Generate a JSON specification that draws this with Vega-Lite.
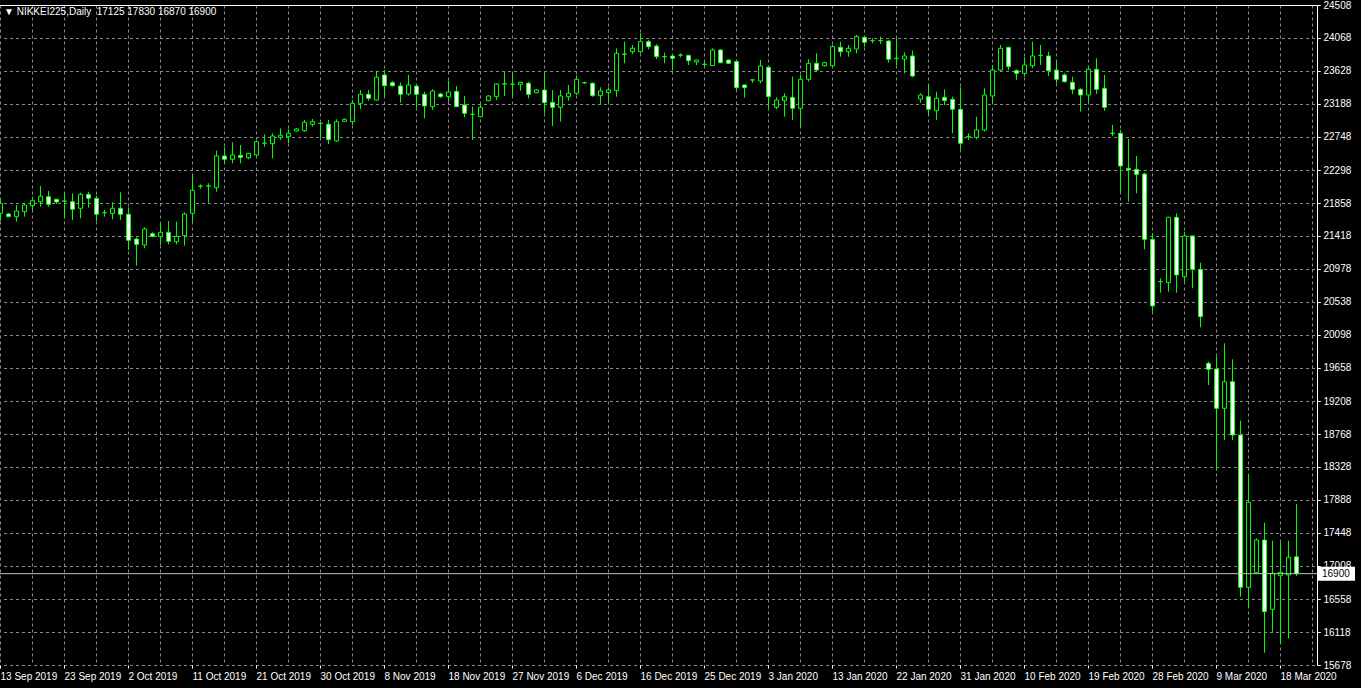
{
  "$schema": "https://vega.github.io/schema/vega-lite/v6.json",
  "width": 1317,
  "height": 660,
  "autosize": {"type": "none"},
  "padding": {"left": 0, "top": 5, "right": 44, "bottom": 23},
  "background": "#000000",
  "title": {
    "text": "▼ NIKKEI225,Daily\u00a0\u00a017125 17830 16870 16900",
    "anchor": "start",
    "frame": "group",
    "orient": "top",
    "offset": -17,
    "dx": 4,
    "color": "#ffffff",
    "font": "Liberation Sans",
    "fontSize": 10,
    "fontWeight": "normal"
  },
  "config": {
    "view": {"stroke": null},
    "axis": {"labelFont": "Liberation Sans", "labelFontSize": 10, "labelColor": "#ffffff"}
  },
  "resolve": {"axis": {"x": "independent"}},
  "data": {"values": [
{"date":"2019-09-13","open":21721,"high":21909,"low":21622,"close":21855},
{"date":"2019-09-15","open":21712,"high":21725,"low":21670,"close":21676},
{"date":"2019-09-16","open":21676,"high":21832,"low":21609,"close":21752},
{"date":"2019-09-17","open":21743,"high":21863,"low":21676,"close":21832},
{"date":"2019-09-18","open":21823,"high":21943,"low":21765,"close":21890},
{"date":"2019-09-19","open":21876,"high":22086,"low":21810,"close":21949},
{"date":"2019-09-20","open":21943,"high":22020,"low":21810,"close":21842},
{"date":"2019-09-22","open":21909,"high":21912,"low":21846,"close":21872},
{"date":"2019-09-23","open":21886,"high":21989,"low":21654,"close":21884},
{"date":"2019-09-24","open":21876,"high":21989,"low":21632,"close":21775},
{"date":"2019-09-25","open":21788,"high":21997,"low":21654,"close":21975},
{"date":"2019-09-26","open":21975,"high":22010,"low":21796,"close":21922},
{"date":"2019-09-27","open":21922,"high":21957,"low":21618,"close":21708},
{"date":"2019-09-29","open":21729,"high":21765,"low":21676,"close":21731},
{"date":"2019-09-30","open":21721,"high":21868,"low":21641,"close":21788},
{"date":"2019-10-01","open":21788,"high":22002,"low":21632,"close":21708},
{"date":"2019-10-02","open":21708,"high":21801,"low":21230,"close":21360},
{"date":"2019-10-03","open":21377,"high":21400,"low":21020,"close":21306},
{"date":"2019-10-04","open":21297,"high":21534,"low":21253,"close":21511},
{"date":"2019-10-06","open":21448,"high":21467,"low":21400,"close":21413},
{"date":"2019-10-07","open":21408,"high":21587,"low":21297,"close":21467},
{"date":"2019-10-08","open":21467,"high":21618,"low":21306,"close":21347},
{"date":"2019-10-09","open":21341,"high":21609,"low":21306,"close":21413},
{"date":"2019-10-10","open":21422,"high":21735,"low":21288,"close":21712},
{"date":"2019-10-11","open":21721,"high":22234,"low":21609,"close":22029},
{"date":"2019-10-13","open":22082,"high":22109,"low":22050,"close":22085},
{"date":"2019-10-14","open":22086,"high":22123,"low":21863,"close":22088},
{"date":"2019-10-15","open":22064,"high":22559,"low":22010,"close":22488},
{"date":"2019-10-16","open":22488,"high":22604,"low":22390,"close":22444},
{"date":"2019-10-17","open":22444,"high":22671,"low":22390,"close":22501},
{"date":"2019-10-18","open":22497,"high":22635,"low":22390,"close":22470},
{"date":"2019-10-20","open":22465,"high":22526,"low":22444,"close":22524},
{"date":"2019-10-21","open":22501,"high":22689,"low":22478,"close":22679},
{"date":"2019-10-22","open":22658,"high":22778,"low":22612,"close":22660},
{"date":"2019-10-23","open":22652,"high":22792,"low":22457,"close":22755},
{"date":"2019-10-24","open":22738,"high":22858,"low":22702,"close":22765},
{"date":"2019-10-25","open":22746,"high":22845,"low":22658,"close":22792},
{"date":"2019-10-27","open":22822,"high":22860,"low":22815,"close":22849},
{"date":"2019-10-28","open":22826,"high":22970,"low":22813,"close":22939},
{"date":"2019-10-29","open":22912,"high":22983,"low":22880,"close":22947},
{"date":"2019-10-30","open":22925,"high":22939,"low":22733,"close":22923},
{"date":"2019-10-31","open":22912,"high":22970,"low":22648,"close":22706},
{"date":"2019-11-01","open":22689,"high":22979,"low":22679,"close":22947},
{"date":"2019-11-03","open":22952,"high":22990,"low":22945,"close":22979},
{"date":"2019-11-04","open":22947,"high":23237,"low":22903,"close":23193},
{"date":"2019-11-05","open":23193,"high":23371,"low":23117,"close":23313},
{"date":"2019-11-06","open":23313,"high":23371,"low":23228,"close":23260},
{"date":"2019-11-07","open":23237,"high":23629,"low":23228,"close":23541},
{"date":"2019-11-08","open":23572,"high":23638,"low":23281,"close":23428},
{"date":"2019-11-10","open":23469,"high":23491,"low":23415,"close":23428},
{"date":"2019-11-11","open":23424,"high":23469,"low":23201,"close":23313},
{"date":"2019-11-12","open":23317,"high":23572,"low":23295,"close":23438},
{"date":"2019-11-13","open":23424,"high":23438,"low":23139,"close":23313},
{"date":"2019-11-14","open":23313,"high":23348,"low":22992,"close":23157},
{"date":"2019-11-15","open":23148,"high":23380,"low":23103,"close":23358},
{"date":"2019-11-17","open":23317,"high":23335,"low":23264,"close":23281},
{"date":"2019-11-18","open":23281,"high":23491,"low":23214,"close":23344},
{"date":"2019-11-19","open":23353,"high":23424,"low":23139,"close":23148},
{"date":"2019-11-20","open":23170,"high":23291,"low":23006,"close":23059},
{"date":"2019-11-21","open":23046,"high":23148,"low":22702,"close":23044},
{"date":"2019-11-22","open":23014,"high":23193,"low":23006,"close":23139},
{"date":"2019-11-24","open":23228,"high":23300,"low":23220,"close":23291},
{"date":"2019-11-25","open":23281,"high":23461,"low":23237,"close":23451},
{"date":"2019-11-26","open":23451,"high":23616,"low":23291,"close":23453},
{"date":"2019-11-27","open":23447,"high":23585,"low":23291,"close":23449},
{"date":"2019-11-28","open":23447,"high":23476,"low":23362,"close":23474},
{"date":"2019-11-29","open":23461,"high":23482,"low":23260,"close":23313},
{"date":"2019-12-01","open":23335,"high":23384,"low":23327,"close":23371},
{"date":"2019-12-02","open":23371,"high":23585,"low":23059,"close":23201},
{"date":"2019-12-03","open":23206,"high":23371,"low":22889,"close":23139},
{"date":"2019-12-04","open":23139,"high":23371,"low":22947,"close":23291},
{"date":"2019-12-05","open":23281,"high":23438,"low":23228,"close":23327},
{"date":"2019-12-06","open":23327,"high":23562,"low":23304,"close":23514},
{"date":"2019-12-08","open":23469,"high":23482,"low":23451,"close":23467},
{"date":"2019-12-09","open":23461,"high":23474,"low":23281,"close":23295},
{"date":"2019-12-10","open":23295,"high":23407,"low":23184,"close":23358},
{"date":"2019-12-11","open":23335,"high":23407,"low":23214,"close":23371},
{"date":"2019-12-12","open":23362,"high":23929,"low":23281,"close":23862},
{"date":"2019-12-13","open":23852,"high":24017,"low":23728,"close":23850},
{"date":"2019-12-15","open":23883,"high":23973,"low":23852,"close":23929},
{"date":"2019-12-16","open":23883,"high":24130,"low":23862,"close":24017},
{"date":"2019-12-17","open":24017,"high":24040,"low":23915,"close":23950},
{"date":"2019-12-18","open":23960,"high":23982,"low":23782,"close":23816},
{"date":"2019-12-19","open":23816,"high":23870,"low":23728,"close":23818},
{"date":"2019-12-20","open":23826,"high":23839,"low":23629,"close":23795},
{"date":"2019-12-22","open":23839,"high":23862,"low":23808,"close":23837},
{"date":"2019-12-23","open":23835,"high":23839,"low":23705,"close":23763},
{"date":"2019-12-24","open":23746,"high":23775,"low":23705,"close":23772},
{"date":"2019-12-25","open":23715,"high":23750,"low":23683,"close":23713},
{"date":"2019-12-26","open":23696,"high":23929,"low":23692,"close":23906},
{"date":"2019-12-27","open":23906,"high":23919,"low":23728,"close":23736},
{"date":"2019-12-29","open":23772,"high":23782,"low":23719,"close":23728},
{"date":"2019-12-30","open":23750,"high":23763,"low":23371,"close":23402},
{"date":"2019-12-31","open":23438,"high":23445,"low":23268,"close":23402},
{"date":"2020-01-01","open":23505,"high":23518,"low":23469,"close":23507},
{"date":"2020-01-02","open":23491,"high":23772,"low":23461,"close":23692},
{"date":"2020-01-03","open":23675,"high":23683,"low":23126,"close":23281},
{"date":"2020-01-05","open":23139,"high":23273,"low":23113,"close":23237},
{"date":"2020-01-06","open":23228,"high":23327,"low":23014,"close":23281},
{"date":"2020-01-07","open":23273,"high":23549,"low":22970,"close":23126},
{"date":"2020-01-08","open":23126,"high":23572,"low":22889,"close":23514},
{"date":"2020-01-09","open":23514,"high":23782,"low":23482,"close":23728},
{"date":"2020-01-10","open":23728,"high":23862,"low":23616,"close":23638},
{"date":"2020-01-12","open":23696,"high":23750,"low":23683,"close":23736},
{"date":"2020-01-13","open":23696,"high":23973,"low":23683,"close":23950},
{"date":"2020-01-14","open":23942,"high":24017,"low":23816,"close":23883},
{"date":"2020-01-15","open":23883,"high":23973,"low":23816,"close":23929},
{"date":"2020-01-16","open":23919,"high":24107,"low":23862,"close":24084},
{"date":"2020-01-17","open":24076,"high":24093,"low":23950,"close":24009},
{"date":"2020-01-19","open":24030,"high":24063,"low":23996,"close":24032},
{"date":"2020-01-20","open":24030,"high":24084,"low":23986,"close":24033},
{"date":"2020-01-21","open":24026,"high":24040,"low":23736,"close":23782},
{"date":"2020-01-22","open":23795,"high":24063,"low":23705,"close":23793},
{"date":"2020-01-23","open":23786,"high":23875,"low":23594,"close":23826},
{"date":"2020-01-24","open":23826,"high":23897,"low":23541,"close":23558},
{"date":"2020-01-26","open":23250,"high":23327,"low":23201,"close":23304},
{"date":"2020-01-27","open":23281,"high":23438,"low":23036,"close":23113},
{"date":"2020-01-28","open":23094,"high":23348,"low":22970,"close":23260},
{"date":"2020-01-29","open":23273,"high":23380,"low":23170,"close":23228},
{"date":"2020-01-30","open":23246,"high":23281,"low":22792,"close":23113},
{"date":"2020-01-31","open":23113,"high":23407,"low":22577,"close":22658},
{"date":"2020-02-02","open":22746,"high":22792,"low":22702,"close":22744},
{"date":"2020-02-03","open":22738,"high":23014,"low":22711,"close":22836},
{"date":"2020-02-04","open":22836,"high":23394,"low":22813,"close":23304},
{"date":"2020-02-05","open":23291,"high":23705,"low":23193,"close":23638},
{"date":"2020-02-06","open":23638,"high":23973,"low":23616,"close":23929},
{"date":"2020-02-07","open":23942,"high":23950,"low":23638,"close":23683},
{"date":"2020-02-09","open":23629,"high":23648,"low":23505,"close":23594},
{"date":"2020-02-10","open":23594,"high":23808,"low":23549,"close":23705},
{"date":"2020-02-11","open":23696,"high":24017,"low":23661,"close":23826},
{"date":"2020-02-12","open":23835,"high":23973,"low":23705,"close":23833},
{"date":"2020-02-13","open":23826,"high":23883,"low":23558,"close":23629},
{"date":"2020-02-14","open":23638,"high":23750,"low":23461,"close":23514},
{"date":"2020-02-16","open":23572,"high":23594,"low":23469,"close":23482},
{"date":"2020-02-17","open":23474,"high":23549,"low":23317,"close":23380},
{"date":"2020-02-18","open":23380,"high":23394,"low":23081,"close":23304},
{"date":"2020-02-19","open":23304,"high":23683,"low":23214,"close":23648},
{"date":"2020-02-20","open":23648,"high":23795,"low":23317,"close":23380},
{"date":"2020-02-21","open":23394,"high":23572,"low":23090,"close":23139},
{"date":"2020-02-23","open":22792,"high":22903,"low":22755,"close":22790},
{"date":"2020-02-24","open":22792,"high":22836,"low":22010,"close":22354},
{"date":"2020-02-25","open":22323,"high":22715,"low":21876,"close":22301},
{"date":"2020-02-26","open":22310,"high":22488,"low":21989,"close":22243},
{"date":"2020-02-27","open":22247,"high":22264,"low":21240,"close":21373},
{"date":"2020-02-28","open":21373,"high":21454,"low":20405,"close":20481},
{"date":"2020-03-01","open":20806,"high":20852,"low":20659,"close":20808},
{"date":"2020-03-02","open":20793,"high":21676,"low":20672,"close":21668},
{"date":"2020-03-03","open":21668,"high":21721,"low":20659,"close":20896},
{"date":"2020-03-04","open":20873,"high":21475,"low":20806,"close":21418},
{"date":"2020-03-05","open":21418,"high":21420,"low":20718,"close":20972},
{"date":"2020-03-06","open":20972,"high":21060,"low":20196,"close":20338},
{"date":"2020-03-08","open":19714,"high":19736,"low":19424,"close":19634},
{"date":"2020-03-09","open":19638,"high":19803,"low":18287,"close":19112},
{"date":"2020-03-10","open":19112,"high":19982,"low":18688,"close":19468},
{"date":"2020-03-11","open":19468,"high":19768,"low":18688,"close":18755},
{"date":"2020-03-12","open":18755,"high":18946,"low":16592,"close":16717},
{"date":"2020-03-13","open":16717,"high":18220,"low":16467,"close":17855},
{"date":"2020-03-15","open":16913,"high":17373,"low":16905,"close":17350},
{"date":"2020-03-16","open":17350,"high":17582,"low":15842,"close":16391},
{"date":"2020-03-17","open":16423,"high":17341,"low":16123,"close":16905},
{"date":"2020-03-18","open":16873,"high":17320,"low":15968,"close":16918},
{"date":"2020-03-19","open":16882,"high":17341,"low":16035,"close":17119},
{"date":"2020-03-20","open":17125,"high":17830,"low":16870,"close":16900}
  ]},
  "layer": [
    {
      "mark": {"type": "rule", "color": "#00ff00", "strokeWidth": 1, "clip": true},
      "encoding": {
        "x": {
          "field": "date",
          "type": "ordinal",
          "scale": {"type": "band", "domain": {"unionWith": ["2020-03-22", "2020-03-23"]}, "range": [-3.5, 1316.5], "paddingInner": 0, "paddingOuter": 0},
          "axis": {
            "orient": "bottom",
            "values": ["2019-09-13","2019-09-18","2019-09-23","2019-09-27","2019-10-02","2019-10-07","2019-10-11","2019-10-16","2019-10-21","2019-10-25","2019-10-30","2019-11-04","2019-11-08","2019-11-13","2019-11-18","2019-11-22","2019-11-27","2019-12-02","2019-12-06","2019-12-11","2019-12-16","2019-12-20","2019-12-25","2019-12-30","2020-01-03","2020-01-08","2020-01-13","2020-01-17","2020-01-22","2020-01-27","2020-01-31","2020-02-05","2020-02-10","2020-02-14","2020-02-19","2020-02-24","2020-02-28","2020-03-04","2020-03-09","2020-03-13","2020-03-18","2020-03-23"],
            "labelExpr": "round(datum.index * 41) % 2 == 0 ? utcFormat(toDate(datum.value), '%-d %b %Y') : ''",
            "grid": true,
            "gridColor": "#8a8a8a",
            "gridDash": [3, 3],
            "gridWidth": 1,
            "domain": false,
            "ticks": true,
            "tickColor": "#ffffff",
            "tickSize": 3,
            "tickOpacity": {"condition": {"test": "round(datum.index * 41) % 2 == 0", "value": 1}, "value": 0},
            "labelAlign": "left",
            "labelBaseline": "top",
            "labelPadding": 3,
            "labelAngle": 0,
            "labelOverlap": false,
            "labelFlush": false,
            "title": null
          }
        },
        "y": {
          "field": "low",
          "type": "quantitative",
          "scale": {"domain": [15678, 24508], "nice": false, "zero": false},
          "axis": {"orient": "right", "values": [15678, 16118, 16558, 17008, 17448, 17888, 18328, 18768, 19208, 19658, 20098, 20538, 20978, 21418, 21858, 22298, 22748, 23188, 23628, 24068, 24508], "format": "d", "grid": true, "gridColor": "#8a8a8a", "gridDash": [3, 3], "domain": true, "domainColor": "#ffffff", "ticks": true, "tickColor": "#ffffff", "tickSize": 3, "labelAlign": "left", "labelBaseline": "middle", "labelPadding": 3, "labelOverlap": false, "labelFlush": false, "labelBound": false, "title": null}
        },
        "y2": {"field": "high"}
      }
    },
    {
      "mark": {"type": "bar", "size": 4, "stroke": "#00ff00", "strokeWidth": 1, "clip": true},
      "encoding": {
        "x": {
          "field": "date",
          "type": "ordinal",
          "axis": {"orient": "top", "labels": false, "ticks": false, "grid": false, "domain": true, "domainColor": "#ffffff", "title": null}
        },
        "y": {"field": "open", "type": "quantitative",
          "axis": {"orient": "right", "values": [15678, 16118, 16558, 17008, 17448, 17888, 18328, 18768, 19208, 19658, 20098, 20538, 20978, 21418, 21858, 22298, 22748, 23188, 23628, 24068, 24508], "format": "d", "grid": true, "gridColor": "#8a8a8a", "gridDash": [3, 3], "domain": true, "domainColor": "#ffffff", "ticks": true, "tickColor": "#ffffff", "tickSize": 3, "labelAlign": "left", "labelBaseline": "middle", "labelPadding": 3, "labelOverlap": false, "labelFlush": false, "labelBound": false, "title": null}
        },
        "y2": {"field": "close"},
        "fill": {"condition": {"test": "datum.close < datum.open", "value": "#ffffff"}, "value": "#000000"}
      }
    },
    {
      "transform": [{"filter": "datum.date == '2020-03-20'"}],
      "mark": {"type": "rule", "color": "#c0c0c0", "strokeWidth": 1},
      "encoding": {"y": {"field": "close", "type": "quantitative",
          "axis": {"orient": "right", "values": [15678, 16118, 16558, 17008, 17448, 17888, 18328, 18768, 19208, 19658, 20098, 20538, 20978, 21418, 21858, 22298, 22748, 23188, 23628, 24068, 24508], "format": "d", "grid": true, "gridColor": "#8a8a8a", "gridDash": [3, 3], "domain": true, "domainColor": "#ffffff", "ticks": true, "tickColor": "#ffffff", "tickSize": 3, "labelAlign": "left", "labelBaseline": "middle", "labelPadding": 3, "labelOverlap": false, "labelFlush": false, "labelBound": false, "title": null}
      }}
    },
    {
      "transform": [{"filter": "datum.date == '2020-03-20'"}],
      "mark": {"type": "rect", "fill": "#ffffff", "x": {"expr": "width + 1"}, "x2": {"expr": "width + 38"}, "yOffset": -7, "y2Offset": 7},
      "encoding": {"y": {"field": "close", "type": "quantitative",
          "axis": {"orient": "right", "values": [15678, 16118, 16558, 17008, 17448, 17888, 18328, 18768, 19208, 19658, 20098, 20538, 20978, 21418, 21858, 22298, 22748, 23188, 23628, 24068, 24508], "format": "d", "grid": true, "gridColor": "#8a8a8a", "gridDash": [3, 3], "domain": true, "domainColor": "#ffffff", "ticks": true, "tickColor": "#ffffff", "tickSize": 3, "labelAlign": "left", "labelBaseline": "middle", "labelPadding": 3, "labelOverlap": false, "labelFlush": false, "labelBound": false, "title": null}
      }, "y2": {"field": "close"}}
    },
    {
      "transform": [{"filter": "datum.date == '2020-03-20'"}],
      "mark": {"type": "text", "color": "#000000", "font": "Liberation Sans", "fontSize": 10, "align": "left", "baseline": "middle", "x": {"expr": "width + 5"}},
      "encoding": {"y": {"field": "close", "type": "quantitative",
          "axis": {"orient": "right", "values": [15678, 16118, 16558, 17008, 17448, 17888, 18328, 18768, 19208, 19658, 20098, 20538, 20978, 21418, 21858, 22298, 22748, 23188, 23628, 24068, 24508], "format": "d", "grid": true, "gridColor": "#8a8a8a", "gridDash": [3, 3], "domain": true, "domainColor": "#ffffff", "ticks": true, "tickColor": "#ffffff", "tickSize": 3, "labelAlign": "left", "labelBaseline": "middle", "labelPadding": 3, "labelOverlap": false, "labelFlush": false, "labelBound": false, "title": null}
      }, "text": {"field": "close", "type": "quantitative", "format": "d"}}
    }
  ]
}
